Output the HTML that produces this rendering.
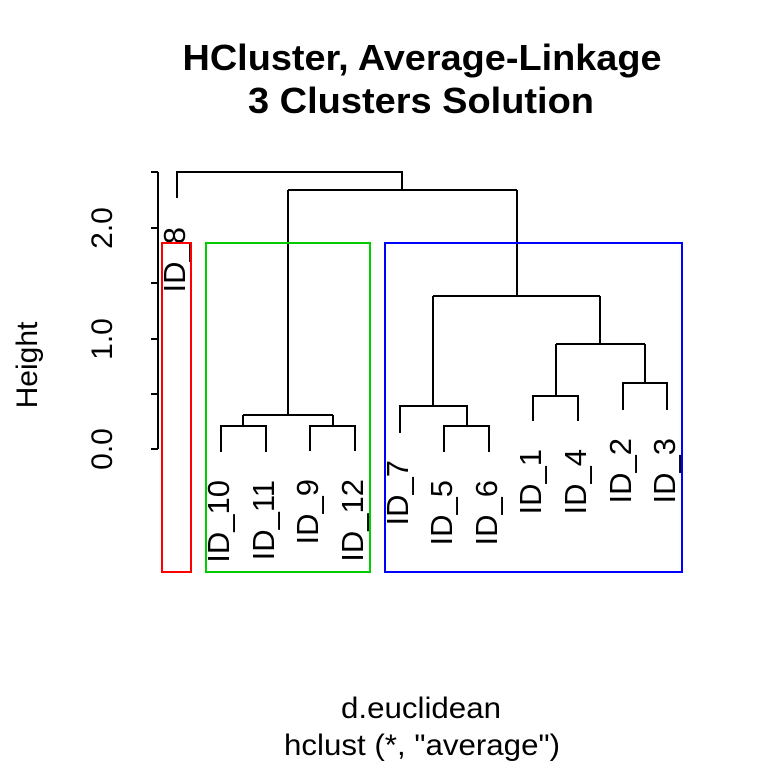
<!DOCTYPE html>
<html><head><style>html,body{margin:0;padding:0;background:#fff}svg{display:block}</style></head><body>
<svg width="768" height="768" viewBox="0 0 768 768" xmlns="http://www.w3.org/2000/svg" font-family="Liberation Sans, Arial, sans-serif">
<rect width="768" height="768" fill="#fff"/>
<text x="422" y="70" font-size="36" font-weight="bold" text-anchor="middle" textLength="479" lengthAdjust="spacingAndGlyphs">HCluster, Average-Linkage</text>
<text x="421" y="113" font-size="36" font-weight="bold" text-anchor="middle" textLength="346" lengthAdjust="spacingAndGlyphs">3 Clusters Solution</text>
<text x="421" y="718" font-size="30" text-anchor="middle" textLength="160" lengthAdjust="spacingAndGlyphs">d.euclidean</text>
<text x="422" y="755" font-size="30" text-anchor="middle" textLength="276" lengthAdjust="spacingAndGlyphs">hclust (*, "average")</text>
<g stroke="#000" stroke-width="2" fill="none">
<path d="M158 172V449M151 172H158M151 228H158M151 283H158M151 339H158M151 394H158M151 449H158"/>
<path d="M177 198V172H402V190M288 190H517M288 190V415M243 415H333M243 415V426M333 415V426M221 452V426H266V452M310 451V426H355V451"/>
<path d="M517 190V296M433 296H600M433 296V406M400 433V406H467V426M444 452V426H489V452M600 296V344M556 344H645M556 344V396M533 421V396H578V421M645 344V383M623 410V383H667V410"/>
</g>
<g font-size="30">
<text transform="translate(112,449) rotate(-90)" text-anchor="middle">0.0</text>
<text transform="translate(112,339) rotate(-90)" text-anchor="middle">1.0</text>
<text transform="translate(112,228) rotate(-90)" text-anchor="middle">2.0</text>
<text transform="translate(37,365) rotate(-90)" text-anchor="middle">Height</text>
</g>
<g font-size="31" text-anchor="end">
<text transform="translate(185,227) rotate(-90)">ID_8</text>
<text transform="translate(229,480) rotate(-90)">ID_10</text>
<text transform="translate(274,480) rotate(-90)">ID_11</text>
<text transform="translate(318,479) rotate(-90)">ID_9</text>
<text transform="translate(363,479) rotate(-90)">ID_12</text>
<text transform="translate(408,460) rotate(-90)">ID_7</text>
<text transform="translate(452,480) rotate(-90)">ID_5</text>
<text transform="translate(497,480) rotate(-90)">ID_6</text>
<text transform="translate(541,449) rotate(-90)">ID_1</text>
<text transform="translate(586,449) rotate(-90)">ID_4</text>
<text transform="translate(631,438) rotate(-90)">ID_2</text>
<text transform="translate(675,438) rotate(-90)">ID_3</text>
</g>
<g fill="none" stroke-width="2">
<rect x="162" y="243" width="29" height="329" stroke="#f00"/>
<rect x="206" y="243" width="164" height="329" stroke="#0c0"/>
<rect x="385" y="243" width="297" height="329" stroke="#00f"/>
</g>
</svg>
</body></html>
